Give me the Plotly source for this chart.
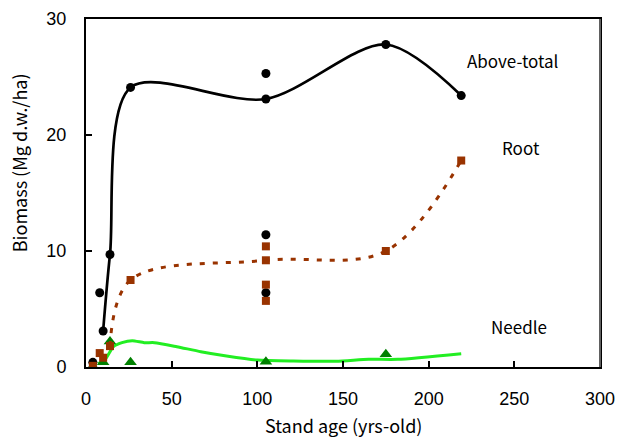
import plotly.graph_objects as go

# --- observed data ---
age_pts = [4, 8, 10, 14, 26, 105, 105, 105, 105, 175, 219]
above_total = [0.4, 6.4, 3.1, 9.7, 24.1, 25.3, 23.1, 11.4, 6.4, 27.8, 23.4]
root = [0.1, 1.2, 0.8, 1.8, 7.5, 10.4, 9.2, 7.1, 5.7, 10.0, 17.8]

needle_age = [4, 10, 14, 26, 105, 175]
needle = [0.05, 0.4, 2.2, 0.4, 0.45, 1.1]

# --- fitted curves ---
above_fit_age = [10, 14, 26, 105, 175, 219]
above_fit = [3.1, 9.7, 24.1, 23.1, 27.8, 23.4]

root_fit_age = [14, 26, 105, 175, 219]
root_fit = [1.8, 7.5, 9.2, 10.0, 17.8]

needle_fit_age = [7, 11, 16, 21, 27, 34, 40, 53, 67, 82, 100, 121, 146, 165, 182, 219]
needle_fit = [0.3, 0.6, 1.75, 2.1, 2.27, 2.1, 2.1, 1.75, 1.32, 0.95, 0.6, 0.52, 0.5, 0.66, 0.66, 1.15]

x_ticks = [0, 50, 100, 150, 200, 250, 300]
y_ticks = [0, 10, 20, 30]

BROWN = "#993300"
DKGREEN = "#008000"
LTGREEN = "#22ee22"
JP = "Noto Sans CJK JP"

fig = go.Figure()

fig.add_trace(go.Scatter(x=needle_fit_age, y=needle_fit, mode="lines",
                         line=dict(color=LTGREEN, width=3, shape="spline", smoothing=0.6),
                         showlegend=False, hoverinfo="skip"))
fig.add_trace(go.Scatter(x=needle_age, y=needle, mode="markers",
                         marker=dict(symbol="triangle-up", color=DKGREEN, size=11),
                         showlegend=False))
fig.add_trace(go.Scatter(x=above_fit_age, y=above_fit, mode="lines",
                         line=dict(color="black", width=2.7, shape="spline", smoothing=0.85),
                         showlegend=False, hoverinfo="skip"))
fig.add_trace(go.Scatter(x=age_pts, y=above_total, mode="markers",
                         marker=dict(symbol="circle", color="black", size=9),
                         showlegend=False))
fig.add_trace(go.Scatter(x=root_fit_age, y=root_fit, mode="lines",
                         line=dict(color=BROWN, width=3, shape="spline", smoothing=1.0, dash="5px,8px"),
                         showlegend=False, hoverinfo="skip"))
fig.add_trace(go.Scatter(x=age_pts, y=root, mode="markers",
                         marker=dict(symbol="square", color=BROWN, size=8),
                         showlegend=False))

fig.update_layout(
    width=617, height=439,
    margin=dict(l=86, r=17, t=19, b=72),
    plot_bgcolor="white", paper_bgcolor="white",
    font=dict(family="Liberation Sans", size=18, color="black"),
    xaxis=dict(range=[0, 300], tickvals=x_ticks, ticks="inside", ticklen=6, tickwidth=1.5,
               tickcolor="black", showline=True, linecolor="black", linewidth=2,
               mirror=True, showgrid=False, zeroline=False, ticklabelstandoff=14,
               automargin=False, tickfont=dict(family="Liberation Sans", size=18)),
    yaxis=dict(range=[0, 30], tickvals=y_ticks, ticks="inside", ticklen=6, tickwidth=1.5,
               tickcolor="black", showline=True, linecolor="black", linewidth=2,
               mirror=True, showgrid=False, zeroline=False, ticklabelstandoff=14,
               automargin=False, tickfont=dict(family="Liberation Sans", size=18)),
    annotations=[
        dict(text="Biomass (Mg d.w./ha)", xref="paper", yref="paper", x=-0.130, y=0.586,
             xanchor="center", yanchor="middle",
             textangle=-90, showarrow=False, font=dict(family=JP, size=18)),
        dict(text="Stand age (yrs-old)", xref="paper", yref="paper", x=0.5, y=-0.168,
             xanchor="center", yanchor="middle", showarrow=False, font=dict(family=JP, size=18)),
        dict(text="Above-total", xref="x", yref="y", x=249, y=26.4, showarrow=False,
             font=dict(family=JP, size=17)),
        dict(text="Root", xref="x", yref="y", x=254, y=18.9, showarrow=False,
             font=dict(family=JP, size=17)),
        dict(text="Needle", xref="x", yref="y", x=252.5, y=3.45, showarrow=False,
             font=dict(family=JP, size=17)),
    ],
    shapes=[dict(type="line", xref="paper", yref="paper", x0=1, x1=1, y0=0, y1=1,
                 line=dict(color="#606060", width=2))],
)

fig.write_html("out.html", config={"displayModeBar": False},
               post_script="document.body.style.margin='0';document.body.style.padding='0';document.body.style.overflow='hidden';")
